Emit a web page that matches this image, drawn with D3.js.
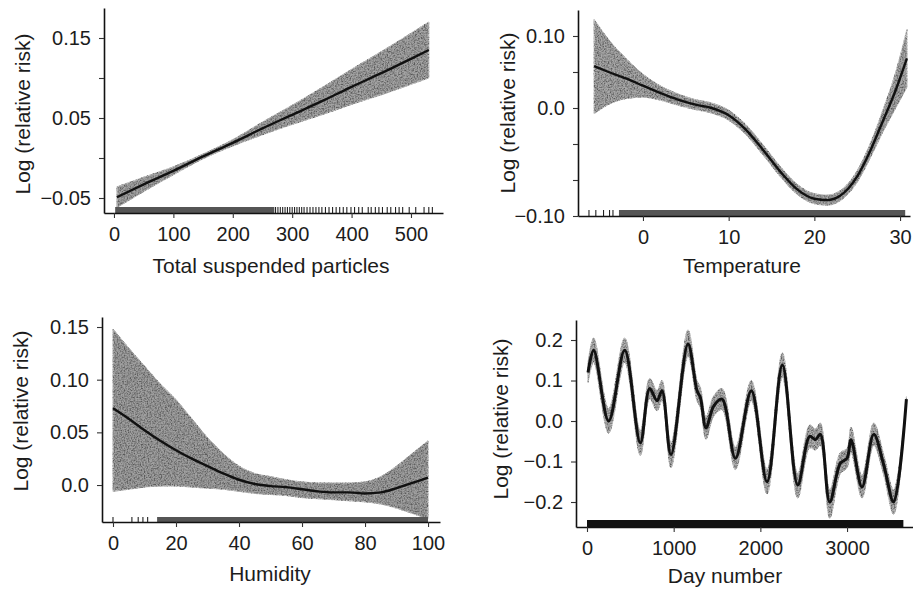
<!DOCTYPE html>
<html>
<head>
<meta charset="utf-8">
<script src="https://cdn.jsdelivr.net/npm/d3@7"></script>
<style>
  body { margin: 0; background: #fff; }
  svg text { font-family: "Liberation Sans", Arial, sans-serif; fill: #1c1c1c; }
</style>
</head>
<body>
<svg id="chart" width="913" height="589"></svg>
<script>
// ---- values ----

// Total suspended particles
const tspX = [5, 50, 100, 150, 200, 250, 300, 350, 400, 450, 500, 530];
const tspFit = [-0.049, -0.033, -0.016, 0.002, 0.019, 0.037, 0.054, 0.071, 0.089, 0.106, 0.124, 0.135];
const tspUpper = [-0.036, -0.024, -0.011, 0.005, 0.023, 0.045, 0.066, 0.088, 0.111, 0.133, 0.156, 0.170];
const tspLower = [-0.062, -0.042, -0.021, -0.001, 0.015, 0.029, 0.042, 0.054, 0.067, 0.079, 0.092, 0.100];
const tspRugSolid = [[2, 270]];
const tspRugTicks = [272, 276, 280, 284, 288, 292, 296, 300, 304, 308, 312, 316, 320, 325, 330, 335, 340,
  345, 350, 356, 362, 368, 374, 380, 386, 392, 399, 405, 412, 418, 428, 433, 440, 446, 452, 460,
  466, 474, 480, 486, 497, 508, 522, 530, 536];
const tspXTicks = [0, 100, 200, 300, 400, 500];
const tspYTicks = [0.15, 0.10, 0.05, 0.0, -0.05];
const tspYLabels = ['0.15', '', '0.05', '', '\u22120.05'];

// Temperature
const tempX = [-5.7, -4, -2, 0, 2, 4, 6, 8, 10, 12, 14, 16, 18, 20, 21.5, 23, 25, 26.5, 28, 29.5, 30.8];
const tempFit = [0.058, 0.050, 0.041, 0.031, 0.021, 0.012, 0.005, 0.000, -0.010, -0.030, -0.058, -0.088,
  -0.113, -0.126, -0.128, -0.122, -0.095, -0.060, -0.018, 0.025, 0.069];
const tempUpper = [0.123, 0.095, 0.069, 0.047, 0.031, 0.020, 0.012, 0.007, -0.003, -0.023, -0.051, -0.081,
  -0.106, -0.119, -0.121, -0.115, -0.087, -0.050, -0.003, 0.050, 0.109];
const tempLower = [-0.008, 0.005, 0.013, 0.015, 0.011, 0.004, -0.002, -0.007, -0.017, -0.037, -0.065, -0.095,
  -0.120, -0.133, -0.135, -0.129, -0.103, -0.070, -0.033, 0.000, 0.029];
const tempRugSolid = [[-2.8, 30.6]];
const tempRugTicks = [-6.3, -5.5, -4.6, -3.9, -3.5];
const tempXTicks = [0, 10, 20, 30];
const tempYTicks = [0.10, 0.05, 0.0, -0.05, -0.10, -0.15];
const tempYLabels = ['0.10', '', '0.0', '', '', '\u22120.10'];

// Humidity
const humX = [0, 5, 10, 15, 20, 25, 30, 35, 40, 45, 50, 55, 60, 65, 70, 75, 80, 85, 90, 95, 100];
const humFit = [0.073, 0.063, 0.052, 0.042, 0.033, 0.025, 0.018, 0.011, 0.005, 0.001, -0.001, -0.002,
  -0.004, -0.006, -0.007, -0.007, -0.008, -0.007, -0.003, 0.002, 0.007];
const humUpper = [0.148, 0.130, 0.113, 0.096, 0.081, 0.063, 0.045, 0.030, 0.018, 0.011, 0.008, 0.005,
  0.003, 0.002, 0.002, 0.002, 0.003, 0.008, 0.018, 0.030, 0.042];
const humLower = [-0.006, -0.004, -0.002, -0.001, -0.001, -0.002, -0.003, -0.004, -0.006, -0.008, -0.009,
  -0.010, -0.012, -0.013, -0.014, -0.015, -0.016, -0.018, -0.022, -0.027, -0.032];
const humRugSolid = [[14, 100]];
const humRugTicks = [0, 6, 8, 9.5, 11];
const humXTicks = [0, 20, 40, 60, 80, 100];
const humYTicks = [0.15, 0.10, 0.05, 0.0];
const humYLabels = ['0.15', '0.10', '0.05', '0.0'];

// Day number
const dayX = [12, 77, 250, 435, 615, 723, 808, 865, 969, 1165, 1269, 1308, 1373, 1462, 1558, 1712, 1896,
  2077, 2254, 2431, 2569, 2635, 2692, 2800, 2923, 3000, 3046, 3173, 3308, 3423, 3538, 3685];
const dayFit = [0.12, 0.175, 0.0, 0.175, -0.054, 0.08, 0.05, 0.075, -0.083, 0.19, 0.075, 0.058, -0.017,
  0.037, 0.054, -0.092, 0.075, -0.15, 0.138, -0.158, -0.038, -0.046, -0.033, -0.2, -0.104, -0.092, -0.046,
  -0.163, -0.033, -0.108, -0.2, 0.054];
const dayUpper = [0.145, 0.205, 0.03, 0.205, -0.025, 0.105, 0.075, 0.1, -0.055, 0.225, 0.1, 0.083, 0.01,
  0.062, 0.08, -0.065, 0.1, -0.12, 0.168, -0.13, -0.01, -0.02, -0.005, -0.17, -0.078, -0.068, -0.015,
  -0.135, -0.005, -0.083, -0.17, 0.06];
const dayLower = [0.095, 0.145, -0.03, 0.145, -0.085, 0.055, 0.025, 0.05, -0.115, 0.16, 0.05, 0.033, -0.045,
  0.012, 0.028, -0.12, 0.05, -0.18, 0.108, -0.19, -0.066, -0.072, -0.06, -0.24, -0.13, -0.116, -0.077,
  -0.19, -0.06, -0.133, -0.23, 0.048];
const dayRugSolid = [[0, 3650]];
const dayRugTicks = [];
const dayXTicks = [0, 1000, 2000, 3000];
const dayYTicks = [0.2, 0.1, 0.0, -0.1, -0.2];
const dayYLabels = ['0.2', '0.1', '0.0', '\u22120.1', '\u22120.2'];

const svg = d3.select('#chart');

// stippled fill for the confidence bands
const defs = svg.append('defs');
const filt = defs.append('filter').attr('id', 'stipple')
  .attr('x', '-5%').attr('y', '-5%').attr('width', '110%').attr('height', '110%');
filt.append('feTurbulence').attr('type', 'fractalNoise').attr('baseFrequency', 0.7)
  .attr('numOctaves', 2).attr('seed', 4).attr('result', 'noise');
filt.append('feColorMatrix').attr('in', 'noise').attr('type', 'matrix')
  .attr('values', '0 0 0 0 0.1  0 0 0 0 0.1  0 0 0 0 0.1  2.4 0 0 0 -0.85').attr('result', 'dots');
filt.append('feComposite').attr('in', 'dots').attr('in2', 'SourceGraphic').attr('operator', 'in').attr('result', 'clipped');
const merge = filt.append('feMerge');
merge.append('feMergeNode').attr('in', 'SourceGraphic');
merge.append('feMergeNode').attr('in', 'clipped');

function drawPanel(p) {
  const g = svg.append('g');
  const x = d3.scaleLinear().domain(p.xDomain).range([p.left, p.right]);
  const y = d3.scaleLinear().domain(p.yDomain).range([p.bottom, p.top]);
  const pts = p.xs.map((v, i) => ({ x: v, fit: p.fit[i], lo: p.lower[i], hi: p.upper[i] }));

  // band
  const band = d3.area()
    .curve(p.curve)
    .x(d => x(d.x))
    .y0(d => y(d.lo))
    .y1(d => y(d.hi));
  g.append('path')
    .datum(pts)
    .attr('d', band)
    .attr('fill', p.bandFill)
    .attr('stroke', '#c8c8c8')
    .attr('stroke-width', 1)
    .attr('filter', 'url(#stipple)');

  // fitted curve
  const line = d3.line()
    .curve(p.curve)
    .x(d => x(d.x))
    .y(d => y(d.fit));
  g.append('path')
    .datum(pts)
    .attr('d', line)
    .attr('fill', 'none')
    .attr('stroke', '#111')
    .attr('stroke-width', p.lineWidth)
    .attr('stroke-linejoin', 'round');

  // rug
  g.selectAll('rect.rug')
    .data(p.rugSolid)
    .enter()
    .append('rect')
    .attr('class', 'rug')
    .attr('x', d => x(d[0]))
    .attr('width', d => x(d[1]) - x(d[0]))
    .attr('y', p.bottom - p.rugH)
    .attr('height', p.rugH)
    .attr('fill', p.rugFill);
  g.selectAll('line.rug')
    .data(p.rugTicks)
    .enter()
    .append('line')
    .attr('class', 'rug')
    .attr('x1', d => x(d)).attr('x2', d => x(d))
    .attr('y1', p.bottom - p.rugH).attr('y2', p.bottom)
    .attr('stroke', '#222')
    .attr('stroke-width', 1.1);

  // axes
  const yAxis = d3.axisLeft(y)
    .tickValues(p.yTicks)
    .tickFormat((d, i) => p.yLabels[i])
    .tickSize(5)
    .tickSizeOuter(0)
    .tickPadding(8);
  const xAxis = d3.axisBottom(x)
    .tickValues(p.xTicks)
    .tickFormat(d => d)
    .tickSize(5)
    .tickSizeOuter(0)
    .tickPadding(9);

  const ya = g.append('g').attr('transform', `translate(${p.left},0)`).call(yAxis);
  const xa = g.append('g').attr('transform', `translate(0,${p.bottom})`).call(xAxis);
  [ya, xa].forEach(a => {
    a.attr('font-size', 20).attr('font-family', '"Liberation Sans", Arial, sans-serif');
    a.select('.domain').attr('stroke', '#111').attr('stroke-width', 1.6);
    a.selectAll('.tick line').attr('stroke', '#333').attr('stroke-width', 1.1);
    a.selectAll('.tick text').attr('fill', '#1c1c1c');
  });

  // titles
  g.append('text')
    .attr('x', p.xTitlePos[0]).attr('y', p.xTitlePos[1])
    .attr('text-anchor', 'middle')
    .attr('dominant-baseline', 'central')
    .attr('font-size', 21)
    .text(p.xTitle);
  g.append('text')
    .attr('transform', `translate(${p.yTitlePos[0]},${p.yTitlePos[1]}) rotate(-90)`)
    .attr('text-anchor', 'middle')
    .attr('dominant-baseline', 'central')
    .attr('font-size', 21)
    .text('Log (relative risk)');
}

drawPanel({
  xs: tspX, fit: tspFit, upper: tspUpper, lower: tspLower,
  rugSolid: tspRugSolid, rugTicks: tspRugTicks,
  xTicks: tspXTicks, yTicks: tspYTicks, yLabels: tspYLabels,
  left: 104, right: 443, top: 8, bottom: 213,
  xDomain: [-16.8, 553.9], yDomain: [-0.06875, 0.1875],
  curve: d3.curveMonotoneX, lineWidth: 2.4, bandFill: '#a4a4a4',
  rugH: 6, rugFill: '#555',
  xTitle: 'Total suspended particles', xTitlePos: [271, 265], yTitlePos: [22, 114]
});

drawPanel({
  xs: tempX, fit: tempFit, upper: tempUpper, lower: tempLower,
  rugSolid: tempRugSolid, rugTicks: tempRugTicks,
  xTicks: tempXTicks, yTicks: tempYTicks, yLabels: tempYLabels,
  left: 578, right: 910, top: 10, bottom: 216,
  xDomain: [-7.58, 31.16], yDomain: [-0.15, 0.1361],
  curve: d3.curveMonotoneX, lineWidth: 2.4, bandFill: '#a8a8a8',
  rugH: 6, rugFill: '#555',
  xTitle: 'Temperature', xTitlePos: [742, 265], yTitlePos: [507, 113]
});

drawPanel({
  xs: humX, fit: humFit, upper: humUpper, lower: humLower,
  rugSolid: humRugSolid, rugTicks: humRugTicks,
  xTicks: humXTicks, yTicks: humYTicks, yLabels: humYLabels,
  left: 102, right: 440, top: 317, bottom: 522,
  xDomain: [-3.49, 103.8], yDomain: [-0.0351, 0.1595],
  curve: d3.curveMonotoneX, lineWidth: 2.4, bandFill: '#a0a0a0',
  rugH: 5, rugFill: '#555',
  xTitle: 'Humidity', xTitlePos: [270, 573], yTitlePos: [20, 411]
});

drawPanel({
  xs: dayX, fit: dayFit, upper: dayUpper, lower: dayLower,
  rugSolid: dayRugSolid, rugTicks: dayRugTicks,
  xTicks: dayXTicks, yTicks: dayYTicks, yLabels: dayYLabels,
  left: 576, right: 913, top: 320, bottom: 527,
  xDomain: [-126.9, 3761], yDomain: [-0.2617, 0.2494],
  curve: d3.curveCatmullRom.alpha(0.5), lineWidth: 3, bandFill: '#b0b0b0',
  rugH: 7, rugFill: '#111',
  xTitle: 'Day number', xTitlePos: [725, 575], yTitlePos: [500, 419]
});
</script>
</body>
</html>
